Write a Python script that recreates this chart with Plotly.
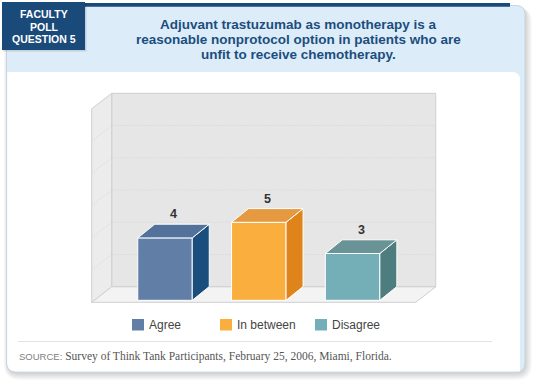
import plotly.graph_objects as go

# ---------------- data ----------------
categories = ["Agree", "In between", "Disagree"]
values = [4, 5, 3]
front_colors = ["#607ea6", "#f9ae3e", "#74aeb6"]
side_colors = ["#1a4e7c", "#df831b", "#4e7d80"]
top_colors = ["#52729b", "#e59a42", "#6a9397"]

title_lines = [
    "Adjuvant trastuzumab as monotherapy is a",
    "reasonable nonprotocol option in patients who are",
    "unfit to receive chemotherapy.",
]
tag_lines = ["FACULTY", "POLL", "QUESTION 5"]
source_label = "SOURCE:"
source_text = "Survey of Think Tank Participants, February 25, 2006, Miami, Florida."

# ---------------- layout geometry ----------------
W, H = 540, 386
X0_PX, X_STEP = 165.0, 93.8      # pixel of first category, px per category
Y0_PX, Y_STEP = 300.3, 15.6      # pixel of value 0, px per value unit

def ux(px):
    return (px - X0_PX) / X_STEP

def uy(py):
    return (Y0_PX - py) / Y_STEP

def fx(px):
    return px / W

def fy(py):
    return 1 - py / H

BAR_W = 54.5 / X_STEP
BDX, BDY = 17 / X_STEP, 13.7 / Y_STEP     # bar depth offsets
WDX, WDY = 20 / X_STEP, 15.5 / Y_STEP     # wall depth offsets
FF = uy(302.3)
FL, FR = ux(91.7), ux(415.7)
WALL_TOP = uy(93.3)

DARK = "#1a4a7a"
LIGHT = "#dcedf9"
FONT = "Liberation Sans, Arial, sans-serif"

shapes = []
annotations = []

def rr_path(x0, y0, x1, y1, r):
    p = [
        f"M{fx(x0 + r)},{fy(y0)}",
        f"L{fx(x1 - r)},{fy(y0)}",
        f"Q{fx(x1)},{fy(y0)} {fx(x1)},{fy(y0 + r)}",
        f"L{fx(x1)},{fy(y1 - r)}",
        f"Q{fx(x1)},{fy(y1)} {fx(x1 - r)},{fy(y1)}",
        f"L{fx(x0 + r)},{fy(y1)}",
        f"Q{fx(x0)},{fy(y1)} {fx(x0)},{fy(y1 - r)}",
        f"L{fx(x0)},{fy(y0 + r)}",
        f"Q{fx(x0)},{fy(y0)} {fx(x0 + r)},{fy(y0)}",
        "Z",
    ]
    return " ".join(p)

# shadow
for k in range(7):
    shapes.append(dict(type="path", xref="paper", yref="paper", layer="below",
                       path=rr_path(6 - k * 0.7 + 2, 5 + 2, 525 + k + 1, 372 + k + 2, 10 + k),
                       fillcolor="rgba(0,0,0,0.025)", line=dict(width=0)))
# card
shapes.append(dict(type="path", xref="paper", yref="paper", layer="below",
                   path=rr_path(6.5, 5.5, 525, 372, 9),
                   fillcolor=LIGHT, line=dict(color="#c9d3dc", width=1)))
# white body
body = " ".join([
    f"M{fx(7.2)},{fy(72)}", f"L{fx(512)},{fy(72)}",
    f"Q{fx(520)},{fy(72)} {fx(520)},{fy(80)}",
    f"L{fx(520)},{fy(371.4)}", f"L{fx(16)},{fy(371.4)}",
    f"Q{fx(7.2)},{fy(371.4)} {fx(7.2)},{fy(362)}", "Z"])
shapes.append(dict(type="path", xref="paper", yref="paper", layer="below",
                   path=body, fillcolor="white", line=dict(width=0)))
# top dark strip
shapes.append(dict(type="rect", xref="paper", yref="paper", layer="below",
                   x0=fx(84), x1=fx(510), y0=fy(3), y1=fy(6.8),
                   fillcolor=DARK, line=dict(width=0)))
# tag box shadow + box
shapes.append(dict(type="rect", xref="paper", yref="paper", layer="below",
                   x0=fx(3), x1=fx(86.5), y0=fy(3), y1=fy(51.5),
                   fillcolor="rgba(0,0,0,0.12)", line=dict(width=0)))
shapes.append(dict(type="rect", xref="paper", yref="paper", layer="below",
                   x0=fx(2), x1=fx(85), y0=fy(2), y1=fy(50),
                   fillcolor=DARK, line=dict(width=0)))
for line, cy in zip(tag_lines, [14, 26.5, 39]):
    annotations.append(dict(xref="paper", yref="paper", x=fx(44), y=fy(cy),
                            text=f"<b>{line}</b>", showarrow=False,
                            xanchor="center", yanchor="middle",
                            font=dict(family=FONT, size=10.5, color="white")))
for line, cy in zip(title_lines, [24, 39, 54]):
    annotations.append(dict(xref="paper", yref="paper", x=fx(298), y=fy(cy),
                            text=f"<b>{line}</b>", showarrow=False,
                            xanchor="center", yanchor="middle",
                            font=dict(family=FONT, size=13.5, color="#1d4d7e")))

# ---------------- 3D walls ----------------
def dpath(pts):
    return "M" + " L".join(f"{x},{y}" for x, y in pts) + " Z"

wall_line = dict(color="#cfcfcf", width=1)
shapes.append(dict(type="path", xref="x", yref="y", layer="below",
                   path=dpath([(FL + WDX, FF + WDY), (FR + WDX, FF + WDY),
                               (FR + WDX, WALL_TOP), (FL + WDX, WALL_TOP)]),
                   fillcolor="#e6e6e6", line=wall_line))
shapes.append(dict(type="path", xref="x", yref="y", layer="below",
                   path=dpath([(FL, FF), (FL + WDX, FF + WDY),
                               (FL + WDX, WALL_TOP), (FL, WALL_TOP - WDY)]),
                   fillcolor="#ececec", line=wall_line))
shapes.append(dict(type="path", xref="x", yref="y", layer="below",
                   path=dpath([(FL, FF), (FR, FF), (FR + WDX, FF + WDY), (FL + WDX, FF + WDY)]),
                   fillcolor="#f3f3f3", line=wall_line))
for k in range(1, 6):
    yk = FF + WDY + k * (WALL_TOP - (FF + WDY)) / 6
    shapes.append(dict(type="line", xref="x", yref="y", layer="below",
                       x0=FL + WDX, x1=FR + WDX, y0=yk, y1=yk,
                       line=dict(color="#d2d2d2", width=1, dash="1px,2px")))
    shapes.append(dict(type="line", xref="x", yref="y", layer="below",
                       x0=FL, x1=FL + WDX, y0=yk - WDY, y1=yk,
                       line=dict(color="#d2d2d2", width=1, dash="1px,2px")))

# ---------------- bars ----------------
xs = list(range(len(categories)))
fig = go.Figure()
fig.add_trace(go.Bar(x=xs, y=values, width=BAR_W, base=0,
                     marker=dict(color=front_colors, line=dict(color="white", width=1)),
                     hoverinfo="skip", showlegend=False))
for i, v in zip(xs, values):
    r = i + BAR_W / 2
    l = i - BAR_W / 2
    side = [(r, 0), (r + BDX, BDY), (r + BDX, v + BDY), (r, v), (r, 0)]
    top = [(l, v), (l + BDX, v + BDY), (r + BDX, v + BDY), (r, v), (l, v)]
    for pts, col in ((side, side_colors[i]), (top, top_colors[i])):
        fig.add_trace(go.Scatter(x=[p[0] for p in pts], y=[p[1] for p in pts],
                                 mode="lines", fill="toself", fillcolor=col,
                                 line=dict(color="white", width=1),
                                 hoverinfo="skip", showlegend=False))
    annotations.append(dict(xref="x", yref="y", x=i + BDX / 2, y=v + BDY,
                            yshift=10, text=f"<b>{v}</b>", showarrow=False,
                            xanchor="center", yanchor="middle",
                            font=dict(family=FONT, size=12.5, color="#333333")))

# ---------------- legend ----------------
LEGEND_X = [132, 220, 315]
for name, col, lx in zip(categories, front_colors, LEGEND_X):
    shapes.append(dict(type="rect", xref="paper", yref="paper", layer="below",
                       x0=fx(lx), x1=fx(lx + 12), y0=fy(319), y1=fy(330.5),
                       fillcolor=col, line=dict(width=0)))
    annotations.append(dict(xref="paper", yref="paper", x=fx(lx + 15), y=fy(325),
                            text=name, showarrow=False, xanchor="left", yanchor="middle",
                            font=dict(family=FONT, size=12, color="#444444")))

# separator and source
shapes.append(dict(type="line", xref="paper", yref="paper", layer="below",
                   x0=fx(18), x1=fx(492), y0=fy(341.5), y1=fy(341.5),
                   line=dict(color="#e2e2e2", width=1)))
annotations.append(dict(xref="paper", yref="paper", x=fx(17), y=fy(356),
                        text=(f"<span style='font-family:Liberation Sans, Arial;font-size:9.5px;"
                              f"color:#808080'>{source_label}</span> {source_text}"),
                        showarrow=False, xanchor="left", yanchor="middle",
                        font=dict(family="Liberation Serif, Times New Roman, serif",
                                  size=11.5, color="#555555")))

fig.update_layout(
    width=W, height=H, margin=dict(l=0, r=0, t=0, b=0),
    paper_bgcolor="white", plot_bgcolor="rgba(0,0,0,0)",
    xaxis=dict(range=[ux(0), ux(W)], domain=[0, 1], visible=False, fixedrange=True),
    yaxis=dict(range=[uy(H), uy(0)], domain=[0, 1], visible=False, fixedrange=True),
    shapes=shapes, annotations=annotations, showlegend=False,
)
fig.write_html("out.html", config={"displayModeBar": False},
               post_script="document.body.style.margin='0';document.body.style.overflow='hidden';")
